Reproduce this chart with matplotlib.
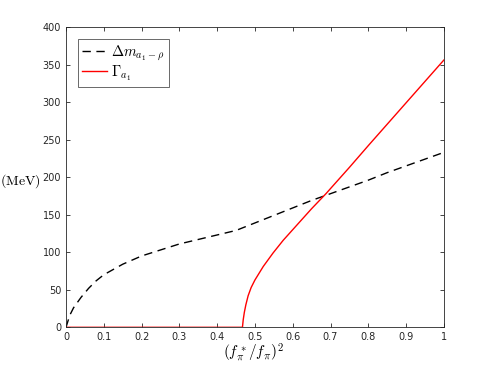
import numpy as np
import matplotlib
matplotlib.use("Agg")
from matplotlib import pyplot as plt

# Data
x_dm = [0.0, 0.01, 0.02, 0.04, 0.06, 0.08, 0.1, 0.15, 0.2, 0.25, 0.3, 0.35, 0.4, 0.45, 0.465,
        0.5, 0.55, 0.6, 0.65, 0.7, 0.75, 0.8, 0.85, 0.9, 0.95, 1.0]
y_dm = [0, 16, 26, 40, 52, 62, 70, 84, 95, 103, 111, 117, 123, 129, 132,
        139, 149, 159, 169, 178, 187, 196, 206, 215, 224, 233]

x_gam = [0.0, 0.467, 0.469, 0.472, 0.476, 0.482, 0.49, 0.5, 0.522, 0.548, 0.575, 0.6, 0.65,
         0.688, 0.75, 0.8, 0.9, 1.0]
y_gam = [0, 0, 10, 20, 30, 42, 53, 63, 81, 99, 116, 130, 158, 178, 213, 242, 299, 356]

xticks = [0, 0.1, 0.2, 0.3, 0.4, 0.5, 0.6, 0.7, 0.8, 0.9, 1]
xtick_labels = ["0", "0.1", "0.2", "0.3", "0.4", "0.5", "0.6", "0.7", "0.8", "0.9", "1"]
yticks = [0, 50, 100, 150, 200, 250, 300, 350, 400]

plt.rcParams["mathtext.fontset"] = "cm"

fig = plt.figure(figsize=(4.91, 3.68), dpi=100)
ax = fig.add_axes([0.1344, 0.1106, 0.7696, 0.816])

ax.plot(x_dm, y_dm, color="black", lw=1.0, dashes=(6, 4), label=r"$\Delta m_{a_1-\rho}$")
ax.plot(x_gam, y_gam, color="#ff0000", lw=1.0, label=r"$\Gamma_{a_1}$")

ax.set_xlim(0, 1)
ax.set_ylim(0, 400)
ax.set_xticks(xticks)
ax.set_xticklabels(xtick_labels)
ax.set_yticks(yticks)

gray = "#262626"
for s in ax.spines.values():
    s.set_color(gray)
    s.set_linewidth(0.6)
ax.tick_params(direction="in", top=True, right=True, length=3, width=0.6,
               colors=gray, labelsize=7, labelcolor=gray)

# axis labels placed by hand (MATLAB-style positions)
ax.set_xlabel(r"$(f_\pi^*/f_\pi)^2$", fontsize=11, va="center", ha="center")
ax.xaxis.set_label_coords(0.495, -0.086)
ax.set_ylabel(r"$\mathrm{(MeV)}$", fontsize=10, rotation=0, va="center", ha="left")
ax.yaxis.set_label_coords(-0.174, 0.488)

leg = ax.legend(loc="upper left", fontsize=10.5, frameon=True, fancybox=False,
                edgecolor=gray, handlelength=1.7, borderpad=0.3, labelspacing=0.05,
                handletextpad=0.3, borderaxespad=0.8)
leg.get_frame().set_linewidth(0.6)

fig.savefig("out.png", dpi=100)
